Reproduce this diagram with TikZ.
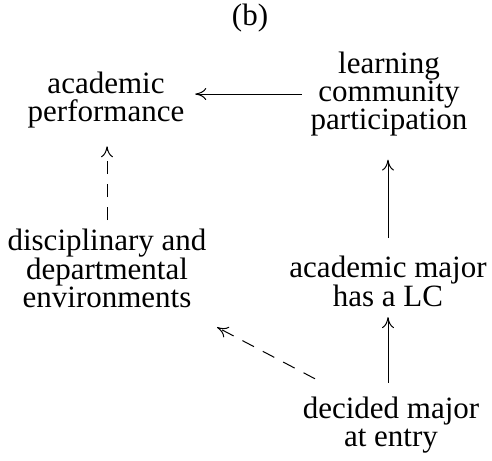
\documentclass[tikz,border=0pt]{standalone}
\usepackage{fontspec}
\setmainfont{Liberation Serif}
\usetikzlibrary{arrows.meta}
\begin{document}
\begin{tikzpicture}[x=1pt,y=-1pt,
  label/.style={inner sep=0pt,align=center,font=\fontsize{31}{28}\selectfont},
  link/.style={line width=1pt,-{To[length=11pt,width=12pt]}},
  dashlink/.style={link,dash pattern=on 13pt off 10pt}]
\useasboundingbox (0,0) rectangle (492,460);

\node[label,anchor=base] (title) at (250,26) {(b)};
\node[label,anchor=north] (ap)  at (106,71.8)  {academic\\performance};
\node[label,anchor=north] (lc)  at (389,51.8)  {learning\\community\\participation};
\node[label,anchor=north] (dde) at (107,228.8) {disciplinary and\\departmental\\environments};
\node[label,anchor=north] (amj) at (388,255.8) {academic major\\has a LC};
\node[label,anchor=north] (dm)  at (391,396.8) {decided major\\at entry};

% solid links
\draw[link,shorten <=8.6pt,shorten >=10.7pt] (lc.west) -- (lc.west -| ap.east);
\draw[link,shorten <=17.8pt,shorten >=23.3pt] (amj.north) -- (amj.north |- lc.south);
\draw[link,shorten <=14pt,shorten >=10pt] (amj.south |- dm.north) -- (amj.south);

% dashed links
\draw[dashlink,shorten <=8.8pt,shorten >=18pt] (dde.north) -- (dde.north |- ap.south);
\draw[dashlink] ([shift={(-76,-18)}]dm.north) -- ([shift={(110,19)}]dde.south);
\end{tikzpicture}
\end{document}
